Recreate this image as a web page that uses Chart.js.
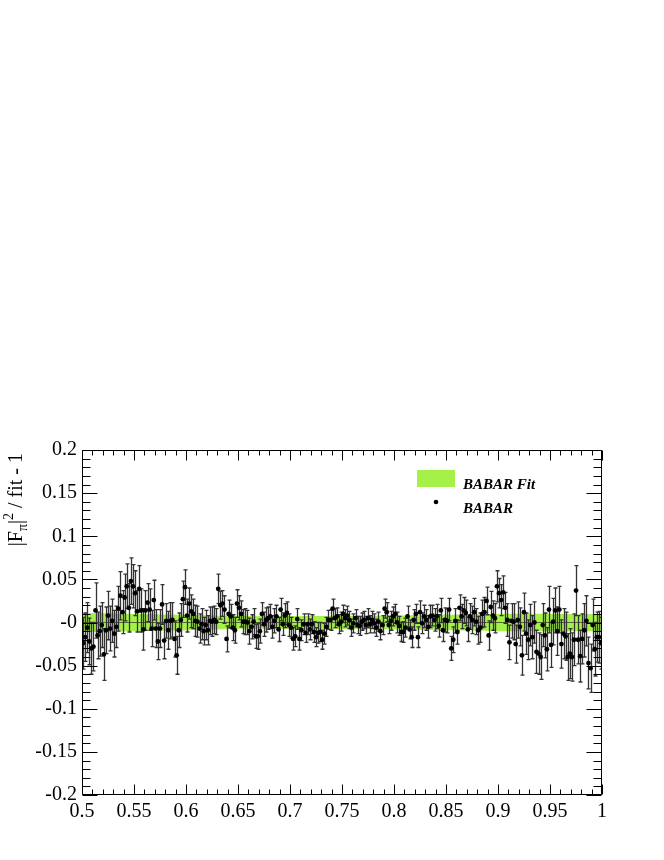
<!DOCTYPE html>
<html>
<head>
<meta charset="utf-8">
<script src="https://cdn.jsdelivr.net/npm/chart.js@4/dist/chart.umd.min.js"></script>
<style>
  html, body { margin: 0; padding: 0; background: #fff; }
</style>
</head>
<body>
<canvas id="ratioChart" width="664" height="860"></canvas>
<script>
// BABAR |F_pi|^2 divided by the fit, minus one, 2 MeV bins
const mass = [
  0.501,0.503,0.505,0.507,0.509,0.511,0.513,0.515,0.517,0.519,
  0.521,0.523,0.525,0.527,0.529,0.531,0.533,0.535,0.537,0.539,
  0.541,0.543,0.545,0.547,0.549,0.551,0.553,0.555,0.557,0.559,
  0.561,0.563,0.565,0.567,0.569,0.571,0.573,0.575,0.577,0.579,
  0.581,0.583,0.585,0.587,0.589,0.591,0.593,0.595,0.597,0.599,
  0.601,0.603,0.605,0.607,0.609,0.611,0.613,0.615,0.617,0.619,
  0.621,0.623,0.625,0.627,0.629,0.631,0.633,0.635,0.637,0.639,
  0.641,0.643,0.645,0.647,0.649,0.651,0.653,0.655,0.657,0.659,
  0.661,0.663,0.665,0.667,0.669,0.671,0.673,0.675,0.677,0.679,
  0.681,0.683,0.685,0.687,0.689,0.691,0.693,0.695,0.697,0.699,
  0.701,0.703,0.705,0.707,0.709,0.711,0.713,0.715,0.717,0.719,
  0.721,0.723,0.725,0.727,0.729,0.731,0.733,0.735,0.737,0.739,
  0.741,0.743,0.745,0.747,0.749,0.751,0.753,0.755,0.757,0.759,
  0.761,0.763,0.765,0.767,0.769,0.771,0.773,0.775,0.777,0.779,
  0.781,0.783,0.785,0.787,0.789,0.791,0.793,0.795,0.797,0.799,
  0.801,0.803,0.805,0.807,0.809,0.811,0.813,0.815,0.817,0.819,
  0.821,0.823,0.825,0.827,0.829,0.831,0.833,0.835,0.837,0.839,
  0.841,0.843,0.845,0.847,0.849,0.851,0.853,0.855,0.857,0.859,
  0.861,0.863,0.865,0.867,0.869,0.871,0.873,0.875,0.877,0.879,
  0.881,0.883,0.885,0.887,0.889,0.891,0.893,0.895,0.897,0.899,
  0.901,0.903,0.905,0.907,0.909,0.911,0.913,0.915,0.917,0.919,
  0.921,0.923,0.925,0.927,0.929,0.931,0.933,0.935,0.937,0.939,
  0.941,0.943,0.945,0.947,0.949,0.951,0.953,0.955,0.957,0.959,
  0.961,0.963,0.965,0.967,0.969,0.971,0.973,0.975,0.977,0.979,
  0.981,0.983,0.985,0.987,0.989,0.991,0.993,0.995,0.997,0.999
];

const ratio = [
  // 0.501 - 0.625
  -0.024,-0.017,-0.006,-0.022,-0.030,-0.028,0.014,-0.015,-0.010,-0.003,
  -0.037,-0.009,0.008,-0.007,0.002,-0.013,-0.005,0.016,0.031,0.012,
  0.029,0.042,0.017,0.048,0.042,0.034,0.013,0.039,0.014,-0.008,
  0.014,0.023,0.015,-0.007,0.026,-0.007,-0.022,-0.007,0.021,-0.021,
  0.002,-0.009,0.002,0.003,-0.019,-0.038,-0.009,0.003,0.027,0.041,
  0.008,0.022,0.013,0.010,0.002,0.001,-0.007,-0.002,-0.010,-0.003,
  -0.009,0.002,0.001,
  // 0.627 - 0.751
  0.003,0.001,0.039,0.020,0.022,0.015,-0.019,0.010,0.007,-0.006,
  -0.009,0.022,0.017,0.010,0.001,0.001,0.000,-0.010,-0.005,0.001,
  -0.016,-0.016,-0.010,0.010,-0.002,0.003,0.005,0.007,-0.005,0.002,
  0.007,-0.008,0.015,-0.002,0.008,0.011,-0.003,-0.006,-0.019,-0.016,
  0.004,-0.019,-0.009,-0.002,-0.012,-0.002,-0.008,-0.002,-0.011,-0.017,
  -0.012,-0.011,-0.020,-0.013,-0.005,0.003,0.003,0.016,0.005,0.007,
  -0.002,0.001,0.010,
  // 0.753 - 0.875
  0.005,0.008,0.003,-0.006,-0.001,0.005,-0.003,-0.004,0.001,0.003,
  -0.003,0.005,-0.002,0.003,-0.001,-0.006,0.001,-0.010,-0.003,0.016,
  0.012,-0.003,0.002,0.007,0.010,0.000,-0.004,-0.011,-0.011,-0.006,
  0.007,-0.008,-0.017,0.003,0.010,-0.017,0.012,-0.001,0.007,0.003,
  -0.005,0.007,0.008,0.003,0.007,-0.004,0.014,-0.009,0.003,0.002,
  0.015,-0.030,-0.020,0.002,-0.011,0.017,0.007,0.014,0.011,-0.008,
  0.007,0.003,
  // 0.877 - 0.999
  0.012,0.001,-0.009,-0.006,0.010,0.012,0.025,-0.015,0.018,0.008,
  0.005,0.042,0.034,0.026,0.035,0.017,0.003,-0.023,0.002,0.001,
  -0.025,0.003,-0.005,-0.038,0.012,-0.013,-0.020,-0.003,-0.017,0.000,
  -0.034,-0.036,-0.040,-0.003,-0.015,-0.031,0.015,-0.026,0.001,0.014,
  -0.010,0.015,-0.025,-0.013,-0.016,-0.040,-0.036,-0.040,-0.020,0.037,
  -0.020,-0.039,-0.019,-0.009,0.002,-0.047,-0.053,-0.003,-0.031,-0.017,
  -0.017,-0.024
];

const ratioErr = [
  // 0.501 - 0.625
  0.030,0.028,0.029,0.027,0.030,0.028,0.032,0.027,0.029,0.026,
  0.030,0.027,0.028,0.026,0.025,0.027,0.024,0.026,0.028,0.025,
  0.027,0.026,0.028,0.027,0.025,0.026,0.024,0.027,0.025,0.024,
  0.023,0.022,0.024,0.021,0.023,0.022,0.021,0.022,0.023,0.021,
  0.020,0.022,0.021,0.020,0.021,0.022,0.020,0.019,0.021,0.020,
  0.019,0.018,0.019,0.017,0.018,0.018,0.017,0.018,0.016,0.017,
  0.017,0.016,0.017,
  // 0.627 - 0.751
  0.016,0.015,0.017,0.016,0.015,0.016,0.015,0.016,0.014,0.015,
  0.015,0.016,0.014,0.015,0.014,0.015,0.014,0.015,0.014,0.015,
  0.014,0.015,0.014,0.013,0.014,0.014,0.013,0.014,0.013,0.014,
  0.013,0.014,0.013,0.013,0.014,0.013,0.013,0.012,0.013,0.012,
  0.012,0.013,0.012,0.012,0.011,0.012,0.012,0.011,0.012,0.011,
  0.012,0.011,0.011,0.012,0.011,0.011,0.012,0.011,0.011,0.010,
  0.011,0.011,0.010,
  // 0.753 - 0.875
  0.010,0.011,0.010,0.010,0.011,0.010,0.010,0.011,0.010,0.010,
  0.010,0.011,0.010,0.010,0.011,0.010,0.011,0.010,0.011,0.011,
  0.011,0.010,0.011,0.011,0.011,0.012,0.011,0.011,0.012,0.011,
  0.012,0.011,0.012,0.012,0.011,0.012,0.013,0.012,0.013,0.012,
  0.013,0.013,0.012,0.013,0.014,0.013,0.014,0.013,0.014,0.014,
  0.013,0.014,0.015,0.014,0.014,0.015,0.014,0.015,0.015,0.014,
  0.015,0.016,
  // 0.877 - 0.999
  0.016,0.015,0.016,0.017,0.016,0.017,0.016,0.017,0.018,0.017,
  0.017,0.018,0.017,0.018,0.019,0.018,0.019,0.020,0.020,0.021,
  0.022,0.021,0.022,0.023,0.022,0.024,0.023,0.024,0.025,0.024,
  0.025,0.024,0.026,0.025,0.026,0.025,0.027,0.026,0.027,0.026,
  0.028,0.027,0.028,0.029,0.028,0.027,0.029,0.028,0.030,0.029,
  0.028,0.030,0.029,0.031,0.029,0.030,0.028,0.030,0.031,0.029,
  0.030,0.030
];

// fit uncertainty band (half width around zero)
const bandMass = [0.50, 0.55, 0.60, 0.65, 0.70, 0.75, 0.80, 0.85, 0.90, 0.95, 1.00];
const bandHalf = [0.011, 0.010, 0.009, 0.0075, 0.0075, 0.0075, 0.008, 0.009, 0.010, 0.010, 0.010];

const xTicks = [0.5, 0.55, 0.6, 0.65, 0.7, 0.75, 0.8, 0.85, 0.9, 0.95, 1];
const xTickLabels = ['0.5', '0.55', '0.6', '0.65', '0.7', '0.75', '0.8', '0.85', '0.9', '0.95', '1'];
const yTicks = [-0.2, -0.15, -0.1, -0.05, 0, 0.05, 0.1, 0.15, 0.2];
const yTickLabels = ['-0.2', '-0.15', '-0.1', '-0.05', '-0', '0.05', '0.1', '0.15', '0.2'];

const SERIF = "'Liberation Serif', 'Times New Roman', serif";
const GREEN = '#a6f04a';

// error bars, drawn just before the points
const errorBars = {
    id: 'errorBars',
    beforeDatasetDraw(chart, args) {
        if (args.index !== 3) return;
        const { ctx, chartArea: a, scales: { x, y } } = chart;
        ctx.save();
        ctx.beginPath();
        ctx.rect(a.left, a.top, a.width, a.height);
        ctx.clip();
        ctx.strokeStyle = '#333';
        ctx.lineWidth = 1.3;
        ctx.beginPath();
        mass.forEach((m, i) => {
            const px = Math.round(x.getPixelForValue(m)) + 0.5;
            const yTop = y.getPixelForValue(ratio[i] + ratioErr[i]);
            const yBot = y.getPixelForValue(ratio[i] - ratioErr[i]);
            ctx.moveTo(px, yTop); ctx.lineTo(px, yBot);
            ctx.moveTo(px - 2, yTop); ctx.lineTo(px + 2, yTop);
            ctx.moveTo(px - 2, yBot); ctx.lineTo(px + 2, yBot);
        });
        ctx.stroke();
        ctx.restore();
    }
};

// ROOT style frame with inward ticks on all four sides
const frameTicks = {
    id: 'frameTicks',
    afterDatasetsDraw(chart) {
        const { ctx, chartArea: a, scales: { x, y } } = chart;
        const L = Math.round(a.left) + 0.5, R = Math.round(a.right) - 0.5;
        const T = Math.round(a.top) + 0.5, B = Math.round(a.bottom) - 0.5;
        ctx.save();
        ctx.strokeStyle = '#000';
        ctx.lineWidth = 1;
        ctx.beginPath();
        ctx.rect(L, T, R - L, B - T);
        for (let k = 0; k <= 50; k++) {
            const v = 0.5 + k * 0.01;
            const px = Math.round(x.getPixelForValue(v)) + 0.5;
            const len = k % 5 === 0 ? 10 : 5;
            ctx.moveTo(px, B); ctx.lineTo(px, B - len);
            ctx.moveTo(px, T); ctx.lineTo(px, T + len);
        }
        for (let k = 0; k <= 40; k++) {
            const v = -0.2 + k * 0.01;
            const py = Math.round(y.getPixelForValue(v)) + 0.5;
            const len = k % 5 === 0 ? 15 : 8;
            ctx.moveTo(L, py); ctx.lineTo(L + len, py);
            ctx.moveTo(R, py); ctx.lineTo(R - len, py);
        }
        ctx.stroke();
        ctx.restore();
    }
};

const legendBox = {
    id: 'legendBox',
    afterDraw(chart) {
        const ctx = chart.ctx;
        ctx.save();
        ctx.fillStyle = GREEN;
        ctx.fillRect(417, 470, 38, 17);
        ctx.fillStyle = '#000';
        ctx.beginPath();
        ctx.arc(436, 502, 2.3, 0, Math.PI * 2);
        ctx.fill();
        ctx.font = 'bold italic 15px ' + SERIF;
        ctx.textBaseline = 'alphabetic';
        ctx.fillText('BABAR Fit', 463, 489);
        ctx.fillText('BABAR', 463, 513);
        ctx.restore();
    }
};

// y axis title |F_pi|^2 / fit - 1, rotated, right-aligned to the top of the axis
const yTitle = {
    id: 'yTitle',
    afterDraw(chart) {
        const ctx = chart.ctx;
        const big = '20px ' + SERIF, small = '14px ' + SERIF;
        const parts = [['|F', big, 0], ['\u03c0', small, 5], ['|', big, 0], ['2', small, -9], [' / fit - 1', big, 0]];
        ctx.save();
        let total = 0;
        parts.forEach(p => { ctx.font = p[1]; total += ctx.measureText(p[0]).width; });
        ctx.translate(22, chart.chartArea.top + 3);
        ctx.rotate(-Math.PI / 2);
        ctx.fillStyle = '#000';
        ctx.textBaseline = 'alphabetic';
        let pos = -total;
        parts.forEach(p => {
            ctx.font = p[1];
            ctx.fillText(p[0], pos, p[2]);
            pos += ctx.measureText(p[0]).width;
        });
        ctx.restore();
    }
};

const ctx = document.getElementById('ratioChart').getContext('2d');
new Chart(ctx, {
    type: 'scatter',
    data: {
        datasets: [
            {
                label: 'BABAR Fit upper',
                data: bandMass.map((m, i) => ({ x: m, y: bandHalf[i] })),
                showLine: true,
                borderWidth: 0,
                pointRadius: 0,
                tension: 0.4,
                backgroundColor: GREEN,
                fill: '+1',
                order: 4
            },
            {
                label: 'BABAR Fit lower',
                data: bandMass.map((m, i) => ({ x: m, y: -bandHalf[i] })),
                showLine: true,
                borderWidth: 0,
                pointRadius: 0,
                tension: 0.4,
                fill: false,
                order: 3
            },
            {
                label: 'BABAR Fit',
                data: bandMass.map(m => ({ x: m, y: 0 })),
                showLine: true,
                borderColor: 'rgba(50,60,40,0.75)',
                borderWidth: 1,
                pointRadius: 0,
                fill: false,
                order: 2
            },
            {
                label: 'BABAR',
                data: mass.map((m, i) => ({ x: m, y: ratio[i] })),
                showLine: false,
                pointRadius: 2.4,
                pointBackgroundColor: '#000',
                pointBorderWidth: 0,
                order: 1
            }
        ]
    },
    options: {
        responsive: false,
        animation: false,
        layout: { padding: { top: 450, right: 62, bottom: 0, left: 0 } },
        plugins: {
            legend: { display: false },
            tooltip: { enabled: false }
        },
        scales: {
            x: {
                type: 'linear',
                min: 0.5,
                max: 1,
                afterBuildTicks: s => { s.ticks = xTicks.map(v => ({ value: v })); },
                afterFit: s => { s.height = 65; },
                grid: { display: false, drawTicks: false },
                border: { display: false },
                ticks: {
                    autoSkip: false,
                    maxRotation: 0,
                    padding: 5,
                    color: '#000',
                    font: { family: SERIF, size: 20 },
                    callback: (v, i) => xTickLabels[i]
                }
            },
            y: {
                type: 'linear',
                min: -0.2,
                max: 0.2,
                afterBuildTicks: s => { s.ticks = yTicks.map(v => ({ value: v })); },
                afterFit: s => { s.width = 82; },
                grid: { display: false, drawTicks: false },
                border: { display: false },
                ticks: {
                    padding: 5,
                    color: '#000',
                    font: { family: SERIF, size: 20 },
                    callback: (v, i) => yTickLabels[i]
                }
            }
        }
    },
    plugins: [errorBars, frameTicks, legendBox, yTitle]
});
</script>
</body>
</html>
